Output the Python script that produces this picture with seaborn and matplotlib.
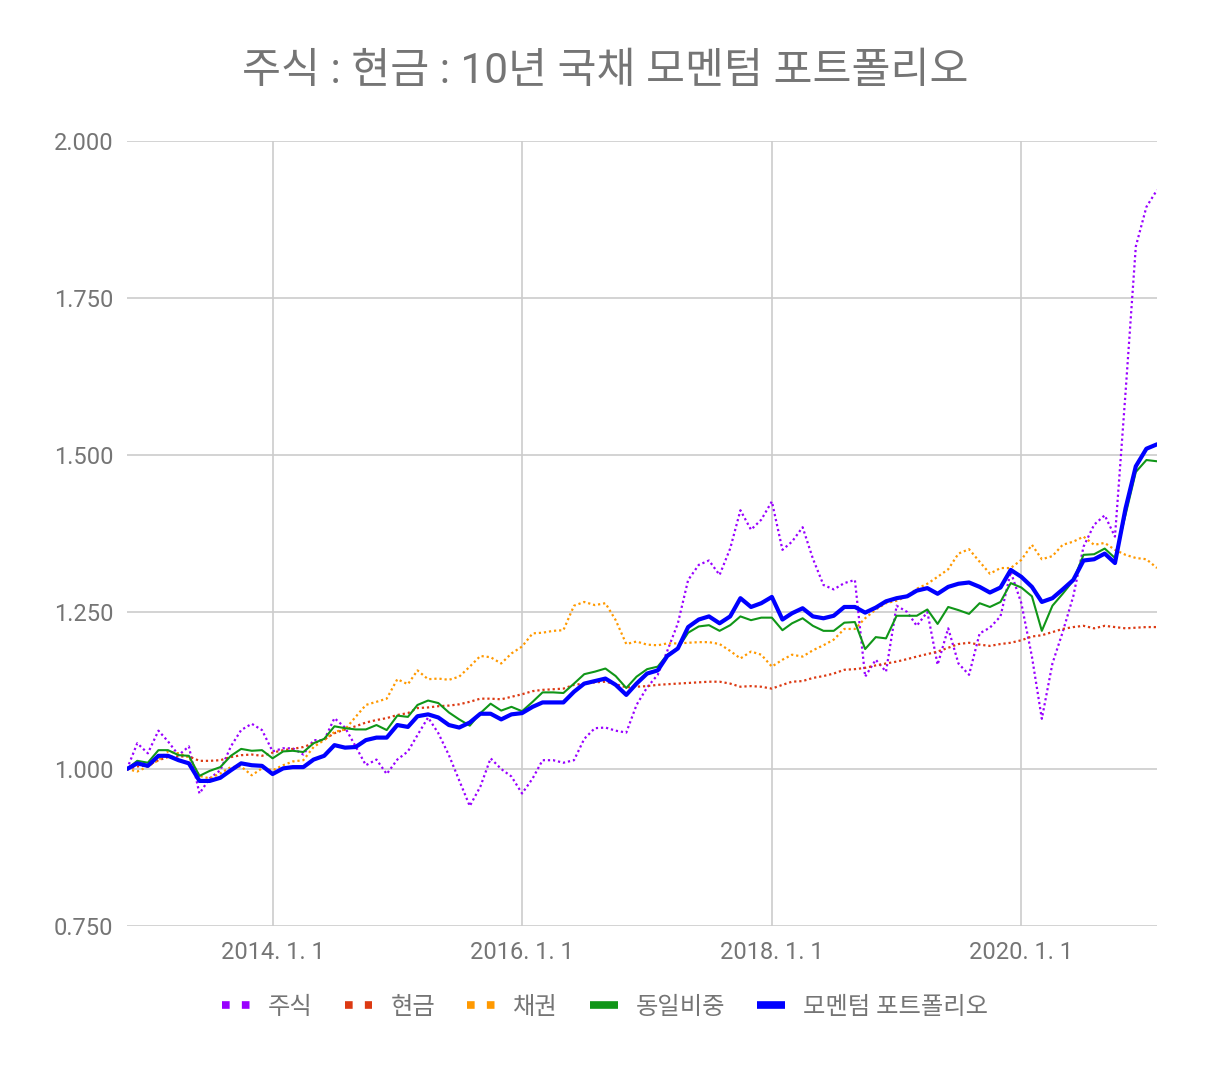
import pandas as pd
import seaborn as sns
import matplotlib.pyplot as plt
from matplotlib.lines import Line2D

# monthly values, start = 1.0 (2012-11 .. 2021-02)
dates = pd.date_range('2012-11-01', periods=100, freq='MS')

stock = [1.000, 1.041, 1.025, 1.061, 1.044, 1.022, 1.036, 0.961, 0.985, 0.998,
         1.036, 1.062, 1.072, 1.062, 1.028, 1.033, 1.033, 1.023, 1.046, 1.046,
         1.081, 1.066, 1.036, 1.006, 1.015, 0.992, 1.015, 1.028, 1.054, 1.082,
         1.057, 1.022, 0.982, 0.941, 0.972, 1.017, 1.000, 0.988, 0.961, 0.985,
         1.014, 1.014, 1.010, 1.014, 1.048, 1.065, 1.066, 1.061, 1.058, 1.102,
         1.130, 1.150, 1.188, 1.232, 1.301, 1.325, 1.332, 1.309, 1.351, 1.412,
         1.381, 1.397, 1.426, 1.349, 1.362, 1.385, 1.335, 1.293, 1.286, 1.296,
         1.301, 1.147, 1.174, 1.155, 1.260, 1.250, 1.228, 1.250, 1.166, 1.224,
         1.168, 1.150, 1.216, 1.225, 1.243, 1.314, 1.264, 1.179, 1.080, 1.168,
         1.218, 1.275, 1.354, 1.389, 1.404, 1.370, 1.600, 1.832, 1.895, 1.922]

cash = [1.000, 1.004, 1.006, 1.014, 1.019, 1.020, 1.020, 1.013, 1.013, 1.014,
        1.019, 1.022, 1.023, 1.021, 1.026, 1.030, 1.032, 1.035, 1.041, 1.047,
        1.057, 1.063, 1.068, 1.074, 1.078, 1.081, 1.086, 1.089, 1.097, 1.098,
        1.100, 1.101, 1.103, 1.107, 1.112, 1.112, 1.111, 1.115, 1.119, 1.124,
        1.126, 1.127, 1.128, 1.134, 1.136, 1.138, 1.139, 1.135, 1.130, 1.131,
        1.132, 1.134, 1.135, 1.136, 1.137, 1.138, 1.139, 1.139, 1.136, 1.131,
        1.132, 1.131, 1.128, 1.134, 1.139, 1.140, 1.145, 1.148, 1.152, 1.158,
        1.159, 1.161, 1.165, 1.168, 1.171, 1.175, 1.179, 1.183, 1.187, 1.193,
        1.199, 1.201, 1.198, 1.196, 1.199, 1.201, 1.205, 1.211, 1.213, 1.218,
        1.223, 1.226, 1.228, 1.224, 1.228, 1.226, 1.224, 1.225, 1.226, 1.226]

bond = [1.000, 0.996, 1.004, 1.014, 1.028, 1.025, 1.019, 0.989, 0.985, 0.993,
        1.003, 1.004, 0.990, 1.001, 0.998, 1.006, 1.012, 1.014, 1.035, 1.046,
        1.059, 1.063, 1.083, 1.102, 1.107, 1.112, 1.143, 1.135, 1.157, 1.143,
        1.144, 1.142, 1.147, 1.163, 1.180, 1.178, 1.168, 1.184, 1.195, 1.216,
        1.217, 1.220, 1.221, 1.260, 1.266, 1.261, 1.264, 1.237, 1.199, 1.203,
        1.198, 1.197, 1.200, 1.200, 1.201, 1.202, 1.202, 1.199, 1.188, 1.176,
        1.187, 1.182, 1.163, 1.174, 1.182, 1.179, 1.189, 1.197, 1.206, 1.223,
        1.223, 1.240, 1.254, 1.264, 1.268, 1.275, 1.287, 1.295, 1.306, 1.318,
        1.343, 1.350, 1.330, 1.311, 1.320, 1.320, 1.333, 1.357, 1.334, 1.339,
        1.357, 1.362, 1.370, 1.357, 1.360, 1.349, 1.341, 1.336, 1.334, 1.320]

equal = [1.000, 1.013, 1.010, 1.030, 1.030, 1.022, 1.021, 0.989, 0.997, 1.003,
         1.021, 1.032, 1.029, 1.030, 1.017, 1.028, 1.029, 1.027, 1.041, 1.048,
         1.068, 1.065, 1.063, 1.063, 1.070, 1.062, 1.085, 1.083, 1.102, 1.109,
         1.105, 1.090, 1.079, 1.069, 1.089, 1.104, 1.093, 1.099, 1.092, 1.107,
         1.122, 1.122, 1.121, 1.136, 1.151, 1.155, 1.160, 1.148, 1.129, 1.147,
         1.159, 1.163, 1.182, 1.192, 1.217, 1.227, 1.229, 1.220, 1.229, 1.243,
         1.237, 1.241, 1.241, 1.221, 1.232, 1.240, 1.228, 1.220, 1.220, 1.233,
         1.234, 1.191, 1.210, 1.208, 1.244, 1.244, 1.244, 1.254, 1.231, 1.258,
         1.253, 1.247, 1.264, 1.258, 1.266, 1.296, 1.289, 1.275, 1.220, 1.260,
         1.279, 1.300, 1.341, 1.342, 1.351, 1.336, 1.405, 1.473, 1.492, 1.490]

momentum = [1.000, 1.009, 1.005, 1.021, 1.021, 1.014, 1.009, 0.981, 0.981, 0.986,
            0.998, 1.009, 1.006, 1.005, 0.992, 1.001, 1.003, 1.003, 1.015, 1.021,
            1.038, 1.034, 1.035, 1.046, 1.050, 1.050, 1.070, 1.067, 1.084, 1.087,
            1.082, 1.070, 1.066, 1.074, 1.088, 1.088, 1.079, 1.087, 1.089, 1.099,
            1.106, 1.106, 1.106, 1.123, 1.136, 1.140, 1.144, 1.134, 1.118, 1.136,
            1.152, 1.157, 1.180, 1.192, 1.226, 1.238, 1.243, 1.232, 1.243, 1.272,
            1.258, 1.264, 1.274, 1.238, 1.248, 1.256, 1.243, 1.240, 1.244, 1.258,
            1.258, 1.249, 1.257, 1.267, 1.272, 1.275, 1.284, 1.288, 1.279, 1.290,
            1.295, 1.297, 1.290, 1.281, 1.289, 1.317, 1.306, 1.290, 1.266, 1.272,
            1.286, 1.301, 1.332, 1.334, 1.343, 1.328, 1.415, 1.482, 1.510, 1.517]

names = ['주식', '현금', '채권', '동일비중', '모멘텀 포트폴리오']
colors = ['#9900ff', '#dc3912', '#ff9900', '#109618', '#0000ff']
x_ticks = pd.to_datetime(['2014-01-01', '2016-01-01', '2018-01-01', '2020-01-01'])
x_labels = ['2014. 1. 1', '2016. 1. 1', '2018. 1. 1', '2020. 1. 1']
y_ticks = [0.75, 1.0, 1.25, 1.5, 1.75, 2.0]

sns.set_theme(style='white')
plt.rcParams['font.family'] = ['Roboto', 'Noto Sans CJK KR', 'DejaVu Sans']

fig = plt.figure(figsize=(12.1, 10.76), dpi=100)
ax = fig.add_axes([127 / 1210, 1 - 926 / 1076, 1030 / 1210, 785 / 1076])

dotted = (0, (1, 1.3))
series = [stock, cash, bond, equal, momentum]
widths = [1.6, 1.6, 1.6, 1.5, 3.0]
styles = [dotted, dotted, dotted, '-', '-']
for vals, c, lw, ls in zip(series, colors, widths, styles):
    sns.lineplot(x=dates, y=vals, ax=ax, color=c, linewidth=lw, linestyle=ls,
                 estimator=None, legend=False, dash_capstyle='butt')

ax.set_xlim(dates[0], dates[-1])
ax.set_ylim(0.75, 2.0)
ax.set_xticks(x_ticks)
ax.set_xticklabels(x_labels)
ax.set_yticks(y_ticks)
ax.set_yticklabels([f'{v:.3f}' for v in y_ticks])
ax.set_xlabel('')
ax.set_ylabel('')
ax.grid(True, color='#cccccc', linewidth=1.2)
ax.set_axisbelow(True)
for s in ax.spines.values():
    s.set_visible(False)
ax.tick_params(axis='both', length=0, labelsize=17, colors='#757575')
ax.tick_params(axis='y', pad=10)
ax.tick_params(axis='x', pad=11)

fig.text(0.5, 1 - 71 / 1076, '주식 : 현금 : 10년 국채 모멘텀 포트폴리오',
         ha='center', va='center', fontsize=30.5, color='#757575')

handles = []
for c, ls in zip(colors, styles):
    handles.append(Line2D([], [], color=c, linewidth=5.5,
                          linestyle=(0, (1, 1.6)) if ls != '-' else '-',
                          dash_capstyle='butt', solid_capstyle='butt'))
leg = fig.legend(handles, names, loc='center', bbox_to_anchor=(0.5, 1 - 1007 / 1076),
                 ncol=5, frameon=False, fontsize=17.5, handlelength=1.15,
                 handletextpad=0.75, columnspacing=1.3)
for t in leg.get_texts():
    t.set_color('#757575')

fig.savefig('out.png', dpi=100)
